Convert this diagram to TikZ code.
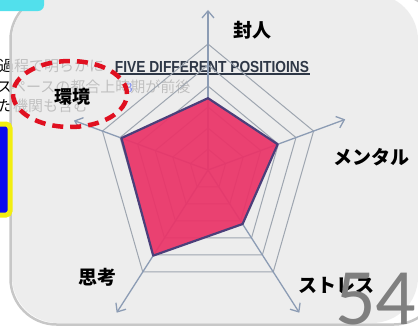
\documentclass[tikz,border=0pt]{standalone}
\usepackage{fontspec}
\setmainfont{Liberation Serif}
\newfontfamily\jpfont{Noto Sans CJK JP}
\newfontfamily\numfont{Carlito}
\newfontfamily\titlefont{Liberation Sans}
\usetikzlibrary{arrows.meta, positioning, shapes.geometric}

\definecolor{panelgray}{HTML}{EAEAEA}
\definecolor{gridgray}{HTML}{9EA6B0}
\definecolor{axisblue}{HTML}{8C9CB4}
\definecolor{radarred}{HTML}{EA3468}
\definecolor{radaredge}{HTML}{4B3F7A}
\definecolor{tabcyan}{HTML}{52E0EC}
\definecolor{boxblue}{HTML}{0A0AF0}
\definecolor{boxyellow}{HTML}{F2EE10}
\definecolor{numgray}{HTML}{7F7F7F}
\definecolor{titleink}{HTML}{2E3746}
\definecolor{ringred}{HTML}{E01020}
\definecolor{fnblue}{HTML}{7C8CF0}

\begin{document}
\begin{tikzpicture}[x=1pt,y=-1pt,
    grid/.style={draw=gridgray, line width=1pt},
    axis/.style={draw=axisblue, line width=1.3pt, -{Straight Barb[length=7pt,width=12pt]}},
    radar/.style={draw=radaredge, line width=2.2pt, fill=radarred, fill opacity=0.93, line join=round},
    label/.style={font=\jpfont\bfseries\fontsize{19}{19}\selectfont, text=black, inner sep=0pt},
    memo/.style={font=\jpfont\fontsize{15}{15}\selectfont, anchor=west, inner sep=0pt},
    ring/.style={ellipse, draw=ringred, line width=4.5pt, dash pattern=on 11pt off 7pt,
                 minimum width=114pt, minimum height=66pt},
]

\useasboundingbox (0,0) rectangle (418,325);
\fill[white] (0,0) rectangle (418,325);

% notes under the panel
\node[memo] (memo1) at (-1,66) {過程で明らかに};
\node[memo] (memo2) at (-3,87) {スペースの都合上時期が前後};
\node[memo] (memo3) at (-2,106) {た機関も含む};

% panel
\draw[black!22, line width=2.5pt, rounded corners=46] (10.5,-6) rectangle (440,324.5);
\fill[panelgray, fill opacity=0.82, rounded corners=46] (12,-6) rectangle (418,323);

\fill[tabcyan, rounded corners=6] (-10,-10) rectangle (44,11);
\draw[boxyellow, line width=5pt, fill=boxblue, rounded corners=4] (-10,124) rectangle (10,215);

% title
\node[font=\titlefont\bfseries\fontsize{16}{16}\selectfont, text=titleink, inner sep=1pt] (title) at (212,67)
    {\scalebox{0.86}[1]{FIVE DIFFERENT POSITIOINS}};
\draw[titleink, line width=1.3pt] (title.south west) -- (title.south east);
\node[font=\fontsize{14}{14}\selectfont, text=fnblue, inner sep=0pt] (fn) at (129,88) {3};

% chart
\coordinate (c) at (208,170);
\begin{scope}[shift={(208,170)}, x=111pt, y=126pt]
  \foreach \r in {1,...,6}
    \draw[grid] (90:\r/6) -- (18:\r/6) -- (-54:\r/6) -- (-126:\r/6) -- (162:\r/6) -- cycle;
  \foreach \a/\f/\n in {90/1.27/a1, 18/1.3/a2, -54/1.4/a3, -126/1.4/a4, 162/1.27/a5}
    \coordinate (\n) at (\a:\f);
  \foreach \n in {a1,a2,a3,a4,a5}
    \draw[axis] (c) -- (\n);
  \draw[radar] (90:.57) -- (18:.66) -- (-54:.53) -- (-126:.84) -- (162:.82) -- cycle;
\end{scope}

\node[label] (taijin) at (252,30) {封人};
\node[label] (mental) at (371,157) {メンタル};
\node[label] (stress) at (336,285) {ストレス};
\node[label] (shikou) at (97,277) {思考};
\node[label, font=\jpfont\bfseries\fontsize{18}{18}\selectfont] (kankyo) at (72,97) {環境};
\node[ring] (focus) at (70,94) {};

\node[font=\numfont\fontsize{80}{80}\selectfont, text=numgray, anchor=base west, inner sep=0pt] (page) at (335,324) {54};

\end{tikzpicture}
\end{document}
